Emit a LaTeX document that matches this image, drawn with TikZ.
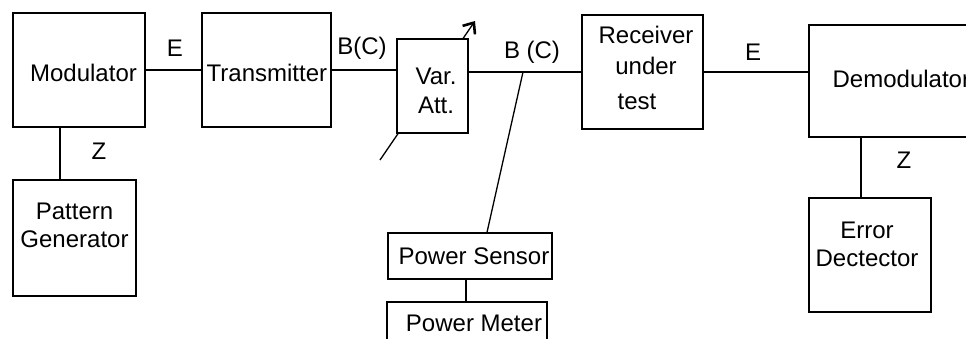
\documentclass[tikz,border=0pt]{standalone}
\usepackage{fontspec}
\setmainfont{Liberation Sans}
\usetikzlibrary{arrows.meta,positioning}

\begin{document}
\begin{tikzpicture}[x=1pt, y=-1pt, line width=1.3pt,
    blk/.style={draw, rectangle, inner sep=0pt},
    txt/.style={font=\fontsize{24}{28}\selectfont, align=center, inner sep=0pt}]
    \useasboundingbox (0,0) rectangle (966,338);
    \clip (0,0) rectangle (966,338);

    % Modulator
    \node[blk, minimum width=132, minimum height=114] (mod) at (79,70) {};
    \node[txt] (modtxt) at (83.5,73) {Modulator};

    % Pattern Generator
    \node[blk, minimum width=123, minimum height=116] (pg) at (74.5,238) {};
    \node[txt] (pgtxt) at (74.5,225) {Pattern\\Generator};

    % Transmitter
    \node[blk, minimum width=129, minimum height=114] (tx) at (266.5,70) {};
    \node[txt, anchor=west] (txtxt) at (206,73) {Transmitter};

    % Var. Att. (Pfeil zuerst, Kasten deckt ihn ab)
    \coordinate (knob) at (380,160);
    \coordinate (knobtip) at (475,21);
    \draw[-{Straight Barb[length=9pt, width=15pt, line width=2.6pt]}] (knob) -- (knobtip);
    \node[blk, fill=white, minimum width=71, minimum height=94] (att) at (432.5,86) {};
    \node[txt] (atttxt) at (436,91) {Var.\\[1pt]Att.};

    % Receiver under test
    \node[blk, minimum width=121, minimum height=114] (rx) at (642.5,72) {};
    \node[txt] (rxtxt) at (646,50) {Receiver\\[3pt]under};
    \node[txt] (rxtest) at (637,102) {test};

    % Power Sensor / Power Meter
    \node[blk, minimum width=164, minimum height=46] (ps) at (470,256) {};
    \node[txt] (pstxt) at (474,256) {Power Sensor};
    \node[blk, minimum width=160, minimum height=58] (pm) at (467,331) {};
    \node[txt] (pmtxt) at (474,323) {Power Meter};

    % Demodulator
    \node[blk, minimum width=191, minimum height=112] (demod) at (904.5,81) {};
    \node[txt, anchor=west] (demodtxt) at (832,79) {Demodulator};

    % Error Dectector
    \node[blk, minimum width=122, minimum height=114] (ed) at (870,255) {};
    \node[txt] (edtxt) at (867,244) {Error\\Dectector};

    % Schnittstellen
    \node[txt] (e1) at (175,48) {E};
    \node[txt] (b1) at (362,48) {B(C)};
    \node[txt] (b2) at (532,52) {B (C)};
    \node[txt] (e2) at (753,52) {E};
    \node[txt] (z1) at (99,151) {Z};
    \node[txt] (z2) at (904,160) {Z};

    % Verbindungen
    \draw (mod.east) -- (tx.west);
    \draw (tx.east) -- (tx.east -| att.west);
    \draw (rx.west -| att.east) -- (rx.west);
    \draw (rx.east) -- (rx.east -| demod.west);
    \draw ([xshift=-19]mod.south) -- ([xshift=-19]mod.south |- pg.north);
    \draw ([xshift=-43.5]demod.south) -- ([xshift=-43.5]demod.south |- ed.north);
    \coordinate (tap) at (523,72);
    \draw (tap) -- ([xshift=17]ps.north);
    \draw ([xshift=-4]ps.south) -- ([xshift=-4]ps.south |- pm.north);
\end{tikzpicture}
\end{document}
